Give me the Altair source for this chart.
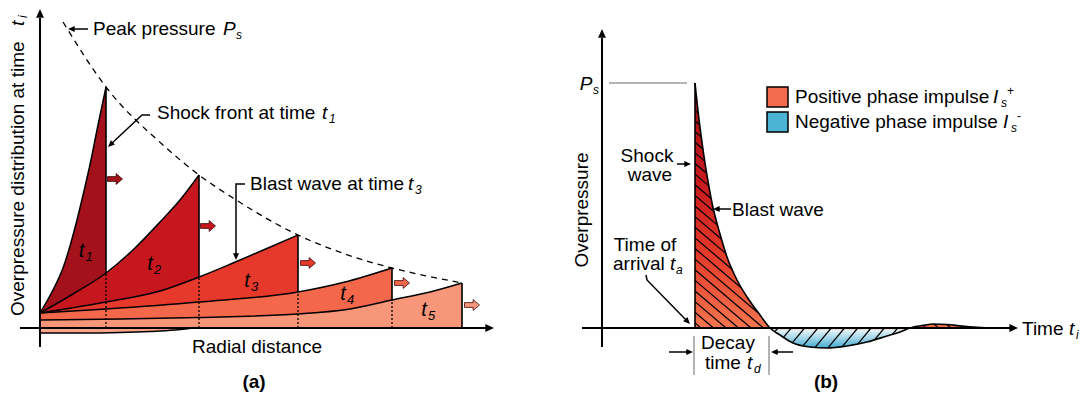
import altair as alt
import numpy as np
import pandas as pd

FONT = "Liberation Sans"

# ======================= (a) overpressure vs radial distance =======================
# arbitrary units: r = radial distance, p = overpressure
front_r = [66, 159, 258, 352, 422]
front_peak = [241, 153, 93, 60, 45]
front_base = [55, 51, 36, 28, 0]
wave_fill = ["#A3111A", "#C6171E", "#E6392B", "#F3684B", "#F8967A"]
wave_sub = ["1", "2", "3", "4", "5"]

t1_r = [0, 7, 15, 23, 30, 37, 44, 51, 57, 62, 66]
t1_p = [15, 27, 42, 60, 82, 108, 137, 168, 198, 222, 241]
t2_r = [0, 33, 66, 95, 120, 140, 159]
t2_p = [15, 34, 55, 80, 106, 128, 153]
t3_r = [0, 66, 120, 159, 193, 228, 258]
t3_p = [15, 26, 37, 51, 65, 80, 93]
t4_r = [0, 66, 159, 258, 305, 352]
t4_p = [15, 19, 26, 36, 46, 60]
t5_r = [0, 80, 159, 258, 310, 352, 390, 422]
t5_p = [8, 9, 10.5, 14, 19, 28, 36, 45]

neg_a_r = [0, 40, 80, 110, 135, 153]
neg_a_p = [-5, -5, -4.5, -3.5, -2, 0]

peak_r = [23, 66, 123, 159, 193, 258, 305, 352, 387, 422]
peak_p = [306, 241, 183, 153, 130, 93, 74, 60, 52, 45]

push_r = [75, 168, 268, 362, 432]
push_p = [149, 102, 65, 45, 23]

tlab_r = [41.5, 110, 207, 303, 384]
tlab_p = [71, 58, 41, 28, 12]

# ======================= (b) overpressure vs time =======================
pos_r = [93, 96, 99, 103, 107, 110, 118, 125, 135, 145, 158, 168]
pos_p = [245, 217, 193, 165, 141, 125, 94, 71, 48, 31, 13, 0]
neg_r = [168, 178, 191, 208, 225, 245, 265, 285, 298, 308]
neg_p = [0, -7, -15, -19, -20, -18, -14, -8, -4, 0]
hump_r = [308, 323, 331, 345, 360, 375, 388]
hump_p = [0, 3, 4, 3.5, 2, 0.8, 0]
t_arrival = 93
t_end = 168
Ps = 245

XA, YA = [-40, 505], [-71, 328]
XB, YB = [-57, 489], [-71, 328]

HEAD = "M0,0 L-1,-0.45 L-1,0.45 Z"
BLOCK = "M-1,-0.32 L0.15,-0.32 L0.15,-0.72 L1,0 L0.15,0.72 L0.15,0.32 L-1,0.32 Z"


def make_xy(xd, yd):
    def X(f):
        return alt.X(f, type="quantitative", scale=alt.Scale(domain=xd, nice=False, zero=False), axis=None)

    def Y(f):
        return alt.Y(f, type="quantitative", scale=alt.Scale(domain=yd, nice=False, zero=False), axis=None)
    return X, Y


def area(X, Y, r, p, color, base=None, interp="monotone"):
    b = base if base is not None else [0] * len(r)
    df = pd.DataFrame({"r": r, "p": p, "b": b})
    return alt.Chart(df).mark_area(color=color, interpolate=interp, opacity=1).encode(
        x=X("r"), y=Y("p"), y2=alt.Y2("b"))


def line(X, Y, r, p, color="black", width=1.5, dash=None, interp="monotone"):
    df = pd.DataFrame({"r": r, "p": p, "i": list(range(len(r)))})
    kw = dict(color=color, strokeWidth=width, interpolate=interp)
    if dash:
        kw["strokeDash"] = dash
    return alt.Chart(df).mark_line(**kw).encode(x=X("r"), y=Y("p"), order="i:Q")


def segs(X, Y, rows, color="black", width=1.5, dash=None):
    df = pd.DataFrame(rows, columns=["r", "p", "r2", "p2"])
    kw = dict(color=color, strokeWidth=width)
    if dash:
        kw["strokeDash"] = dash
    return alt.Chart(df).mark_rule(**kw).encode(
        x=X("r"), y=Y("p"), x2=alt.X2("r2"), y2=alt.Y2("p2"))


def heads(X, Y, rows, size=200):
    df = pd.DataFrame(rows, columns=["r", "p", "ang"])
    return alt.Chart(df).mark_point(shape=HEAD, filled=True, color="black", size=size,
                                    opacity=1, strokeWidth=0).encode(
        x=X("r"), y=Y("p"), angle=alt.Angle("ang:Q", scale=None))


def texts(X, Y, rows, size=19, align="left", baseline="alphabetic", style="normal",
          weight="normal", angle=None):
    df = pd.DataFrame(rows, columns=["r", "p", "s"])
    kw = dict(font=FONT, fontSize=size, align=align, baseline=baseline,
              fontStyle=style, fontWeight=weight, color="black")
    if angle is not None:
        kw["angle"] = angle
    return alt.Chart(df).mark_text(**kw).encode(x=X("r"), y=Y("p"), text="s:N")


def hatch(r0, r1, lo, hi, a_vals, slope, min_len=1.0):
    rs = np.arange(r0, r1 + 1e-9, 0.05)
    out = []
    for a in a_vals:
        ps = slope * (rs - a)
        ins = (ps >= lo(rs) - 1e-9) & (ps <= hi(rs) + 1e-9)
        idx = np.flatnonzero(ins)
        if len(idx) < 2:
            continue
        ra, rb = rs[idx[0]], rs[idx[-1]]
        if np.hypot(rb - ra, slope * (rb - ra)) < min_len:
            continue
        out.append((ra, slope * (ra - a), rb, slope * (rb - a)))
    return out


# ----------------------------- panel (a) -----------------------------
X, Y = make_xy(XA, YA)
waves_r = [t1_r, t2_r, t3_r, t4_r, t5_r]
waves_p = [t1_p, t2_p, t3_p, t4_p, t5_p]

la = []
for wr, wp, col in zip(waves_r, waves_p, wave_fill):
    la.append(area(X, Y, wr, wp, col))
la.append(area(X, Y, neg_a_r, neg_a_p, "#F8A58B"))
for wr, wp in zip(waves_r, waves_p):
    la.append(line(X, Y, wr, wp, width=1.5))
la.append(line(X, Y, neg_a_r, neg_a_p, width=1.5))
la.append(segs(X, Y, [(r, 0, r, b) for r, b in zip(front_r[:4], front_base[:4])],
               width=1.3, dash=[2, 2]))
la.append(segs(X, Y, [(r, b, r, pk) for r, b, pk in zip(front_r, front_base, front_peak)],
               width=1.6))
la.append(line(X, Y, peak_r, peak_p, width=1.3, dash=[6, 5]))
# axes
la.append(segs(X, Y, [(0, -19, 0, 310), (-20, 0, 446, 0)], width=2))
la.append(heads(X, Y, [(0, 319, 270), (454, 0, 0)], size=300))
# blast-front push arrows
df_push = pd.DataFrame({"r": push_r, "p": push_p, "c": wave_fill})
la.append(alt.Chart(df_push).mark_point(shape=BLOCK, filled=True, size=225, opacity=1,
                                         stroke="#3a0a0a", strokeWidth=0.8).encode(
    x=X("r"), y=Y("p"), fill=alt.Fill("c:N", scale=None)))
# t_i labels
la.append(texts(X, Y, [(r, p, "t") for r, p in zip(tlab_r, tlab_p)], size=20,
                align="center", style="italic"))
la.append(texts(X, Y, [(r + 4, p - 4, s) for r, p, s in zip(tlab_r, tlab_p, wave_sub)],
                size=13, style="italic"))
# annotations
la.append(texts(X, Y, [(53, 293, "Peak pressure"), (117, 209, "Shock front at time"),
                       (210, 138, "Blast wave at time")]))
la.append(texts(X, Y, [(183, 293, "P"), (282, 209, "t"), (368, 138, "t")], style="italic"))
la.append(texts(X, Y, [(196, 289, "s"), (289, 205, "1"), (375, 134, "3")], size=12,
                style="italic"))
la.append(segs(X, Y, [(48, 299, 31, 299)], width=1.5))
la.append(line(X, Y, [110, 102, 70], [213, 213, 183], width=1.5, interp="linear"))
la.append(line(X, Y, [205, 196, 196], [144, 144, 72], width=1.5, interp="linear"))
la.append(heads(X, Y, [(28, 299, 180), (68, 181, 136.7), (196, 68, 90)], size=180))
la.append(texts(X, Y, [(217, -25, "Radial distance")], align="center"))
la.append(texts(X, Y, [(214, -60, "(a)")], align="center", weight="bold"))
la.append(texts(X, Y, [(-22, 12, "Overpressure distribution at time")], baseline="middle",
                angle=270))
la.append(texts(X, Y, [(-22, 302, "t")], baseline="middle", angle=270, style="italic"))
la.append(texts(X, Y, [(-17, 310, "i")], size=12, baseline="middle", angle=270,
                style="italic"))

panel_a = alt.layer(*la).properties(width=545, height=399)

# ----------------------------- panel (b) -----------------------------
X, Y = make_xy(XB, YB)
pos_grad = alt.Gradient(gradient="linear", x1=0, x2=0, y1=0, y2=1, stops=[
    alt.GradientStop(color="#A50F18", offset=0),
    alt.GradientStop(color="#C71A1E", offset=0.4),
    alt.GradientStop(color="#E43A2A", offset=0.7),
    alt.GradientStop(color="#F6764F", offset=1)])
neg_grad = alt.Gradient(gradient="linear", x1=0, x2=0, y1=0, y2=1, stops=[
    alt.GradientStop(color="#F2A088", offset=0),
    alt.GradientStop(color="#E4F2F6", offset=0.12),
    alt.GradientStop(color="#9AD2E6", offset=0.55),
    alt.GradientStop(color="#3FA9CF", offset=1)])

lb = []
lb.append(area(X, Y, pos_r, pos_p, pos_grad))
lb.append(area(X, Y, neg_r, neg_p, neg_grad))
lb.append(area(X, Y, hump_r, hump_p, "#F26C4A"))

zero = lambda rs: np.zeros_like(rs)
f_pos = lambda rs: np.interp(rs, pos_r, pos_p, left=-1e9, right=-1e9)
f_hump = lambda rs: np.interp(rs, hump_r, hump_p, left=-1e9, right=-1e9)
f_neg = lambda rs: np.interp(rs, neg_r, neg_p, left=1e9, right=1e9)
a_pos = np.arange(99, 402, 12.5)
hatch_rows = hatch(t_arrival, t_end, zero, f_pos, a_pos, -0.85)
hatch_rows += hatch(hump_r[0], hump_r[-1], zero, f_hump, a_pos, -0.85, min_len=0.5)
hatch_rows += hatch(neg_r[0], neg_r[-1], f_neg, zero, np.arange(176, 312, 13.3), 1.2)
lb.append(segs(X, Y, hatch_rows, width=1.2))

out_r = pos_r + neg_r[1:] + hump_r[1:]
out_p = pos_p + neg_p[1:] + hump_p[1:]
lb.append(line(X, Y, out_r, out_p, width=1.6))
lb.append(segs(X, Y, [(t_arrival, 0, t_arrival, Ps)], width=1.6))
# axes
lb.append(segs(X, Y, [(0, -19, 0, 290), (-20, 0, 408, 0)], width=2))
lb.append(heads(X, Y, [(0, 299, 270), (416, 0, 0)], size=300))
# gray guides
lb.append(segs(X, Y, [(7, Ps, 85, Ps), (92, -8, 92, -47), (167, -8, 167, -47)],
               color="#9A9A9A", width=1.5))
# annotation arrows
lb.append(segs(X, Y, [(75, 164, 86, 164), (129, 119, 114, 119), (67, -24, 88, -24),
                      (191, -24, 172, -24)], width=1.5))
lb.append(line(X, Y, [44, 45, 85], [53, 48, 7], width=1.5, interp="linear"))
lb.append(heads(X, Y, [(89, 164, 0), (111, 119, 180), (88, 4, 45.7), (91, -24, 0),
                       (169, -24, 180)], size=180))
# legend
sw = pd.DataFrame({"r": [165, 165], "r2": [186, 186], "p": [221, 196], "p2": [241, 216],
                   "c": ["#F26B4C", "#4BB3D3"]})
lb.append(alt.Chart(sw).mark_rect(stroke="black", strokeWidth=1.5, opacity=1).encode(
    x=X("r"), x2=alt.X2("r2"), y=Y("p"), y2=alt.Y2("p2"), fill=alt.Fill("c:N", scale=None)))
const = lambda v: (lambda rs: np.full_like(rs, v))
sw_rows = hatch(165, 186, const(221), const(241), [-406, -416], -1)
sw_rows += hatch(165, 186, const(196), const(216), [31, 41], 1)
lb.append(segs(X, Y, sw_rows, width=1.3))
lb.append(texts(X, Y, [(193, 225, "Positive phase impulse"),
                       (193, 200, "Negative phase impulse")]))
lb.append(texts(X, Y, [(391, 225, "I"), (401, 200, "I")], style="italic"))
lb.append(texts(X, Y, [(399, 221, "s"), (409, 196, "s")], size=12, style="italic"))
lb.append(texts(X, Y, [(405, 233, "+"), (415, 208, "-")], size=12))
# text labels
lb.append(texts(X, Y, [(-16, 238, "P")], align="center", style="italic"))
lb.append(texts(X, Y, [(-9, 234, "s")], size=12, style="italic"))
lb.append(texts(X, Y, [(45, 166, "Shock"), (48, 147, "wave"), (43, 77, "Time of"),
                       (126, -21, "Decay")], align="center"))
lb.append(texts(X, Y, [(130, 112, "Blast wave"), (11, 58, "arrival"), (103, -41, "time"),
                       (420, -7, "Time")]))
lb.append(texts(X, Y, [(68, 58, "t"), (145, -41, "t"), (467, -7, "t")], style="italic"))
lb.append(texts(X, Y, [(74, 54, "a"), (152, -45, "d"), (474, -11, "i")], size=12,
                style="italic"))
lb.append(texts(X, Y, [(-20, 118, "Overpressure")], align="center", baseline="middle",
                angle=270))
lb.append(texts(X, Y, [(224, -60, "(b)")], align="center", weight="bold"))

panel_b = alt.layer(*lb).properties(width=546, height=399)

chart = alt.hconcat(panel_a, panel_b, spacing=0, bounds="flush", padding=0,
                    background="white").configure_view(stroke=None)

chart.save("out.html", embed_options={"renderer": "svg", "actions": False})
